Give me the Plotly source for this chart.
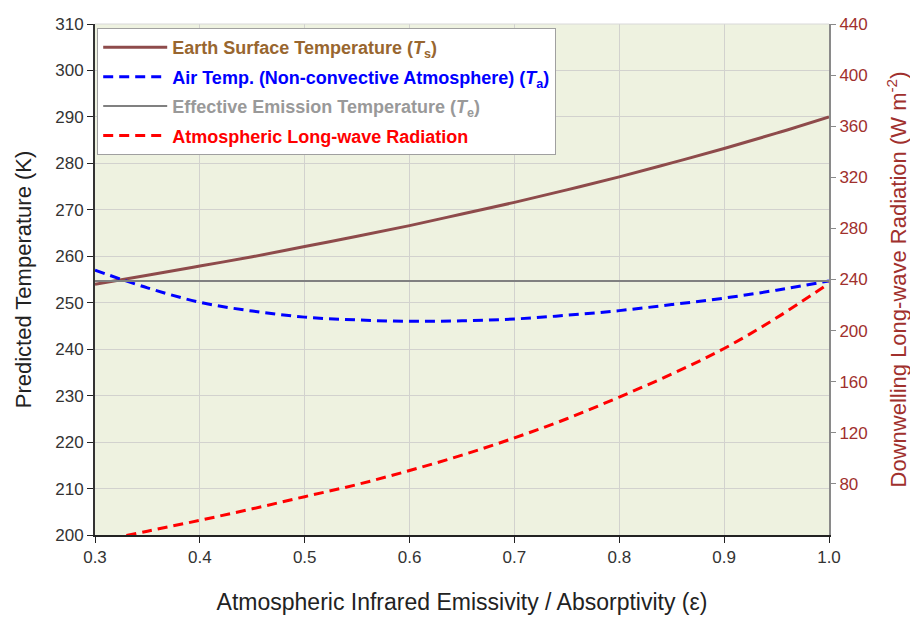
import plotly.graph_objects as go

# ---- data ----
emissivity = [0.30, 0.35, 0.40, 0.45, 0.50, 0.55, 0.60, 0.65, 0.70, 0.75, 0.80, 0.85, 0.90, 0.95, 1.00]
surface_temp = [254.0, 255.9, 257.9, 259.9, 262.1, 264.3, 266.6, 269.1, 271.6, 274.3, 277.1, 280.1, 283.2, 286.5, 290.0]
air_temp = [257.0, 253.2, 250.1, 248.2, 246.9, 246.3, 246.0, 246.1, 246.5, 247.3, 248.3, 249.6, 251.0, 252.7, 254.7]
effective_temp = [254.7] * len(emissivity)
longwave_rad = [34.5, 43.0, 51.5, 60.5, 70.0, 79.5, 90.5, 102.5, 116.0, 131.0, 148.0, 166.0, 186.0, 210.0, 237.0]

x_ticks = [0.3, 0.4, 0.5, 0.6, 0.7, 0.8, 0.9, 1.0]
left_ticks = list(range(200, 311, 10))
right_ticks = list(range(80, 441, 40))

FONT = "Liberation Sans, Arial, sans-serif"
BROWN_LINE = "#8E4B4B"
BROWN_TEXT = "#98662F"
AXIS_RED = "#A0302D"

fig = go.Figure()

fig.add_trace(go.Scatter(
    x=emissivity, y=surface_temp, mode="lines", line_shape="spline",
    line=dict(color=BROWN_LINE, width=3),
    name=f"<span style='color:{BROWN_TEXT}'><b>Earth Surface Temperature (<i>T</i><sub>s</sub>)</b></span>",
    legendgroup="a"))
fig.add_trace(go.Scatter(
    x=emissivity, y=air_temp, mode="lines", line_shape="spline",
    line=dict(color="#0000FF", width=3, dash="10px,6px"),
    name="<span style='color:#0000FF'><b>Air Temp. (Non-convective Atmosphere) (<i>T</i><sub>a</sub>)</b></span>",
    legendgroup="b"))
fig.add_trace(go.Scatter(
    x=emissivity, y=effective_temp, mode="lines",
    line=dict(color="#808080", width=2),
    name="<span style='color:#999999'><b>Effective Emission Temperature (<i>T</i><sub>e</sub>)</b></span>",
    legendgroup="c"))
fig.add_trace(go.Scatter(
    x=emissivity, y=longwave_rad, mode="lines", yaxis="y2", line_shape="spline",
    line=dict(color="#FF0000", width=3, dash="10px,6px"),
    name="<span style='color:#FF0000'><b>Atmospheric Long-wave Radiation</b></span>",
    legendgroup="d"))

fig.update_layout(
    width=918, height=619,
    margin=dict(l=87, r=97, t=16, b=92, autoexpand=False),
    paper_bgcolor="white",
    plot_bgcolor="#EEF2E0",
    font=dict(family=FONT, size=16, color="#333333"),
    showlegend=True,
    legend=dict(
        x=0.003, y=0.992, xanchor="left", yanchor="top",
        bgcolor="white", bordercolor="#A0A0A0", borderwidth=1,
        font=dict(family=FONT, size=18),
        itemwidth=64, tracegroupgap=3,
    ),
    xaxis=dict(
        range=[0.3, 1.0], tickvals=x_ticks, tickformat=".1f",
        showgrid=True, gridcolor="#D2D2CE", gridwidth=1,
        showline=True, linecolor="#222222", linewidth=2,
        ticks="outside", ticklen=6, tickcolor="#222222", tickwidth=1,
        tickfont=dict(size=17, color="#333333"),
        zeroline=False, automargin=False,
        title=dict(text="Atmospheric Infrared Emissivity / Absorptivity (ε)",
                   font=dict(size=23, color="#222222"), standoff=27),
    ),
    yaxis=dict(
        range=[200, 310], tickvals=left_ticks,
        showgrid=True, gridcolor="#D2D2CE", gridwidth=1,
        showline=True, linecolor="#333333", linewidth=2,
        ticks="outside", ticklen=6, tickcolor="#222222", tickwidth=1,
        tickfont=dict(size=17, color="#333333"),
        zeroline=False, automargin=False,
        title=dict(text="Predicted Temperature (K)",
                   font=dict(size=22, color="#222222"), standoff=18),
    ),
    yaxis2=dict(
        overlaying="y", side="right",
        range=[40, 440], tickvals=right_ticks,
        showgrid=False,
        showline=True, linecolor="#8A8A8A", linewidth=2,
        ticks="outside", ticklen=5, tickcolor="#8A8A8A", tickwidth=1,
        tickfont=dict(size=17, color=AXIS_RED),
        zeroline=False, automargin=False,
        title=dict(text="Downwelling Long-wave Radiation (W m<sup>-2</sup>)",
                   font=dict(size=22, color=AXIS_RED), standoff=24),
    ),
    shapes=[dict(type="line", xref="paper", yref="paper", x0=0, x1=1, y0=1, y1=1,
                 line=dict(color="#D8D8D8", width=1))],
)

fig.write_html("out.html")
